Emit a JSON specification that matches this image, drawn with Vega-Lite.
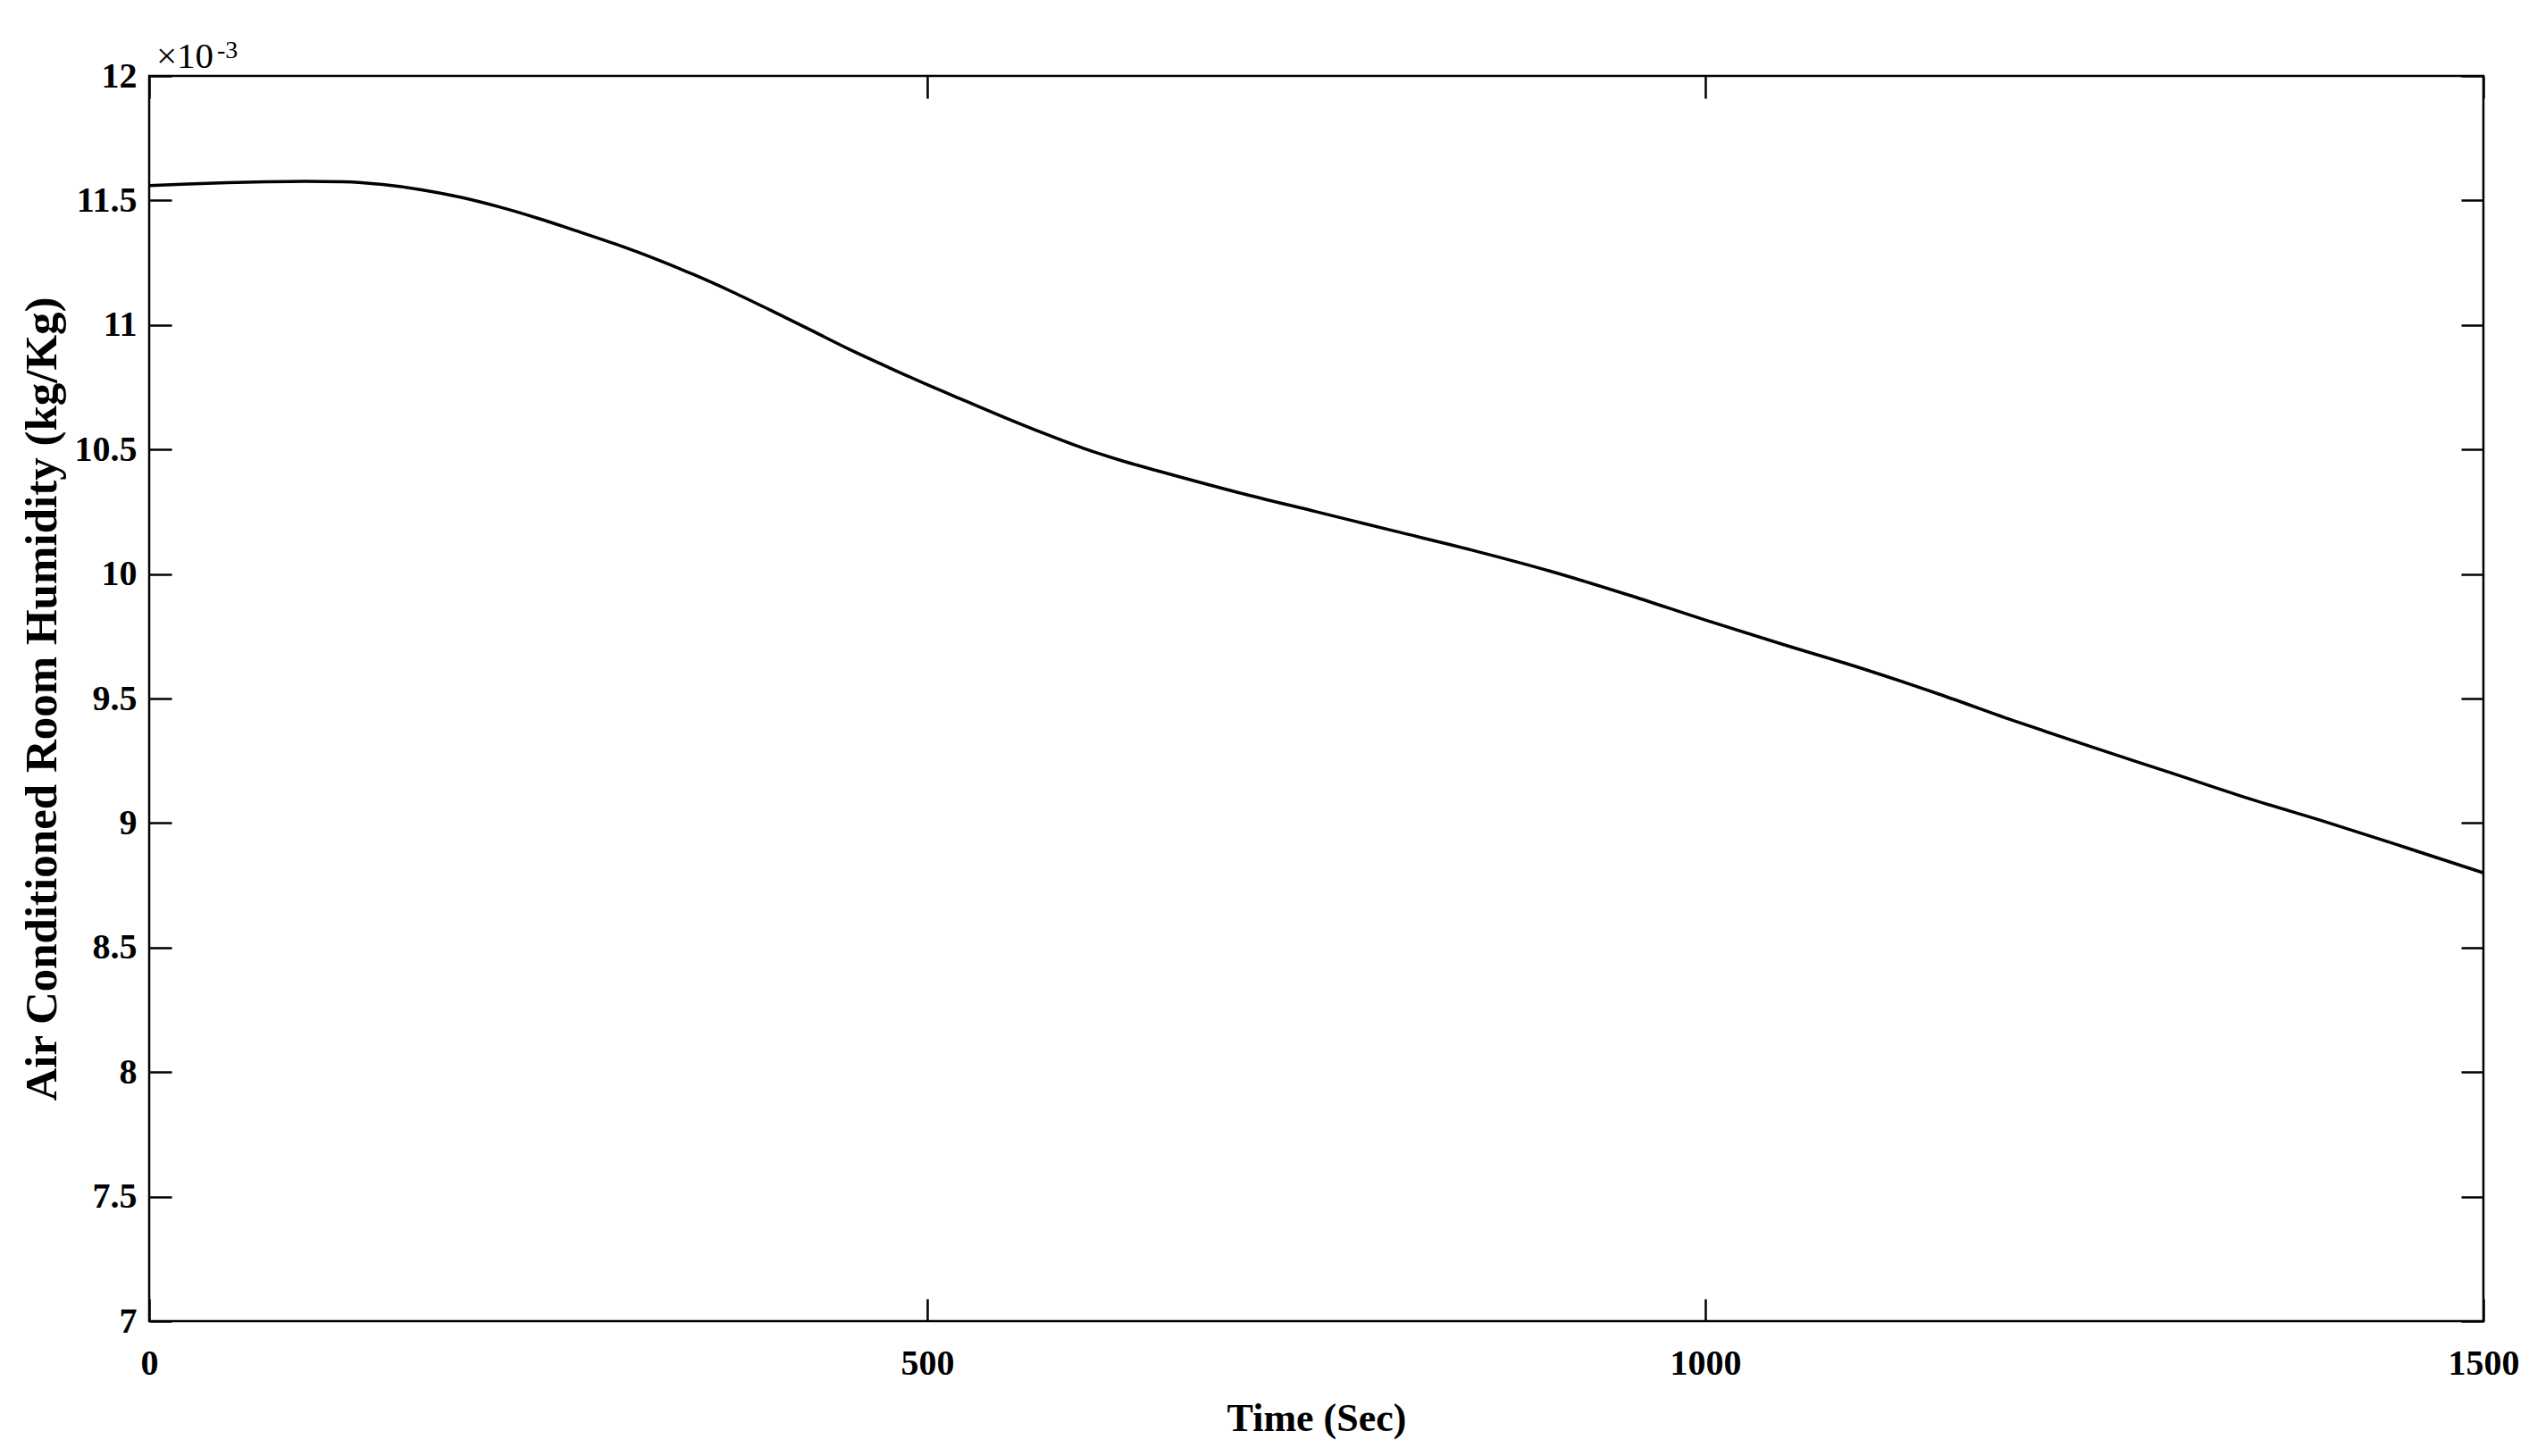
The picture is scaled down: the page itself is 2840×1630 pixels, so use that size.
{
  "$schema": "https://vega.github.io/schema/vega-lite/v6.json",
  "width": 2613,
  "height": 1394,
  "autosize": {"type": "none"},
  "padding": {"left": 167, "top": 85, "right": 60, "bottom": 151},
  "background": "white",
  "config": {
    "view": {"stroke": "black", "strokeWidth": 2.5, "fill": "white"},
    "axis": {
      "domain": false,
      "grid": false,
      "tickColor": "black",
      "tickWidth": 2.5,
      "tickSize": -25,
      "labelColor": "black",
      "labelFont": "Liberation Serif",
      "labelFontWeight": "bold",
      "labelFontSize": 40,
      "labelOverlap": false,
      "labelFlush": false,
      "titleColor": "black",
      "titleFont": "Liberation Serif",
      "titleFontWeight": "bold"
    }
  },
  "data": {
    "values": [
      {"time": 0, "humidity": 0.011560},
      {"time": 25, "humidity": 0.011566},
      {"time": 50, "humidity": 0.011571},
      {"time": 75, "humidity": 0.011575},
      {"time": 100, "humidity": 0.011577},
      {"time": 125, "humidity": 0.011575},
      {"time": 150, "humidity": 0.011564},
      {"time": 175, "humidity": 0.011543},
      {"time": 200, "humidity": 0.011513},
      {"time": 225, "humidity": 0.011474},
      {"time": 250, "humidity": 0.011428},
      {"time": 275, "humidity": 0.011377},
      {"time": 300, "humidity": 0.011324},
      {"time": 325, "humidity": 0.011266},
      {"time": 350, "humidity": 0.011202},
      {"time": 375, "humidity": 0.011132},
      {"time": 400, "humidity": 0.011057},
      {"time": 425, "humidity": 0.010980},
      {"time": 450, "humidity": 0.010902},
      {"time": 475, "humidity": 0.010830},
      {"time": 500, "humidity": 0.010760},
      {"time": 525, "humidity": 0.010694},
      {"time": 550, "humidity": 0.010628},
      {"time": 575, "humidity": 0.010565},
      {"time": 600, "humidity": 0.010506},
      {"time": 625, "humidity": 0.010455},
      {"time": 650, "humidity": 0.010411},
      {"time": 700, "humidity": 0.010327},
      {"time": 750, "humidity": 0.010250},
      {"time": 800, "humidity": 0.010173},
      {"time": 850, "humidity": 0.010096},
      {"time": 900, "humidity": 0.010012},
      {"time": 950, "humidity": 0.009917},
      {"time": 1000, "humidity": 0.009815},
      {"time": 1050, "humidity": 0.009717},
      {"time": 1100, "humidity": 0.009622},
      {"time": 1150, "humidity": 0.009518},
      {"time": 1200, "humidity": 0.009407},
      {"time": 1250, "humidity": 0.009302},
      {"time": 1300, "humidity": 0.009200},
      {"time": 1350, "humidity": 0.009097},
      {"time": 1400, "humidity": 0.009002},
      {"time": 1450, "humidity": 0.008902},
      {"time": 1500, "humidity": 0.008800}
    ]
  },
  "layer": [
    {
      "mark": {"type": "line", "color": "black", "strokeWidth": 3.5, "interpolate": "monotone", "clip": true},
      "encoding": {
        "x": {
          "field": "time", "type": "quantitative",
          "scale": {"domain": [0, 1500], "nice": false, "zero": false},
          "axis": {"orient": "bottom", "values": [0, 500, 1000, 1500], "format": "d", "labelPadding": 52, "title": "Time (Sec)", "titleFontSize": 44, "titlePadding": 20}
        },
        "y": {
          "field": "humidity", "type": "quantitative",
          "scale": {"domain": [0.007, 0.012], "nice": false, "zero": false},
          "axis": {
            "orient": "left",
            "values": [0.007, 0.0075, 0.008, 0.0085, 0.009, 0.0095, 0.01, 0.0105, 0.011, 0.0115, 0.012],
            "labelExpr": "format(datum.value * 1000, '.3~g')",
            "labelPadding": 39,
            "title": "Air Conditioned Room Humidity (kg/Kg)",
            "titleFontSize": 51,
            "titlePadding": 10
          }
        }
      }
    },
    {
      "data": {"values": [{"time": 0, "humidity": 0.012, "label": "×10"}]},
      "mark": {"type": "text", "font": "Liberation Serif", "fontSize": 41, "align": "left", "baseline": "alphabetic", "dx": 8, "dy": -9, "color": "black"},
      "encoding": {
        "x": {"field": "time", "type": "quantitative", "axis": {"orient": "top", "values": [0, 500, 1000, 1500], "labels": false, "title": null}},
        "y": {"field": "humidity", "type": "quantitative", "axis": {"orient": "right", "values": [0.007, 0.0075, 0.008, 0.0085, 0.009, 0.0095, 0.01, 0.0105, 0.011, 0.0115, 0.012], "labels": false, "title": null}},
        "text": {"field": "label"}
      }
    },
    {
      "data": {"values": [{"time": 0, "humidity": 0.012, "label": "-3"}]},
      "mark": {"type": "text", "font": "Liberation Serif", "fontSize": 28, "align": "left", "baseline": "alphabetic", "dx": 76, "dy": -20, "color": "black"},
      "encoding": {
        "x": {"field": "time", "type": "quantitative", "axis": null},
        "y": {"field": "humidity", "type": "quantitative", "axis": null},
        "text": {"field": "label"}
      }
    }
  ],
  "resolve": {"axis": {"x": "independent", "y": "independent"}}
}
